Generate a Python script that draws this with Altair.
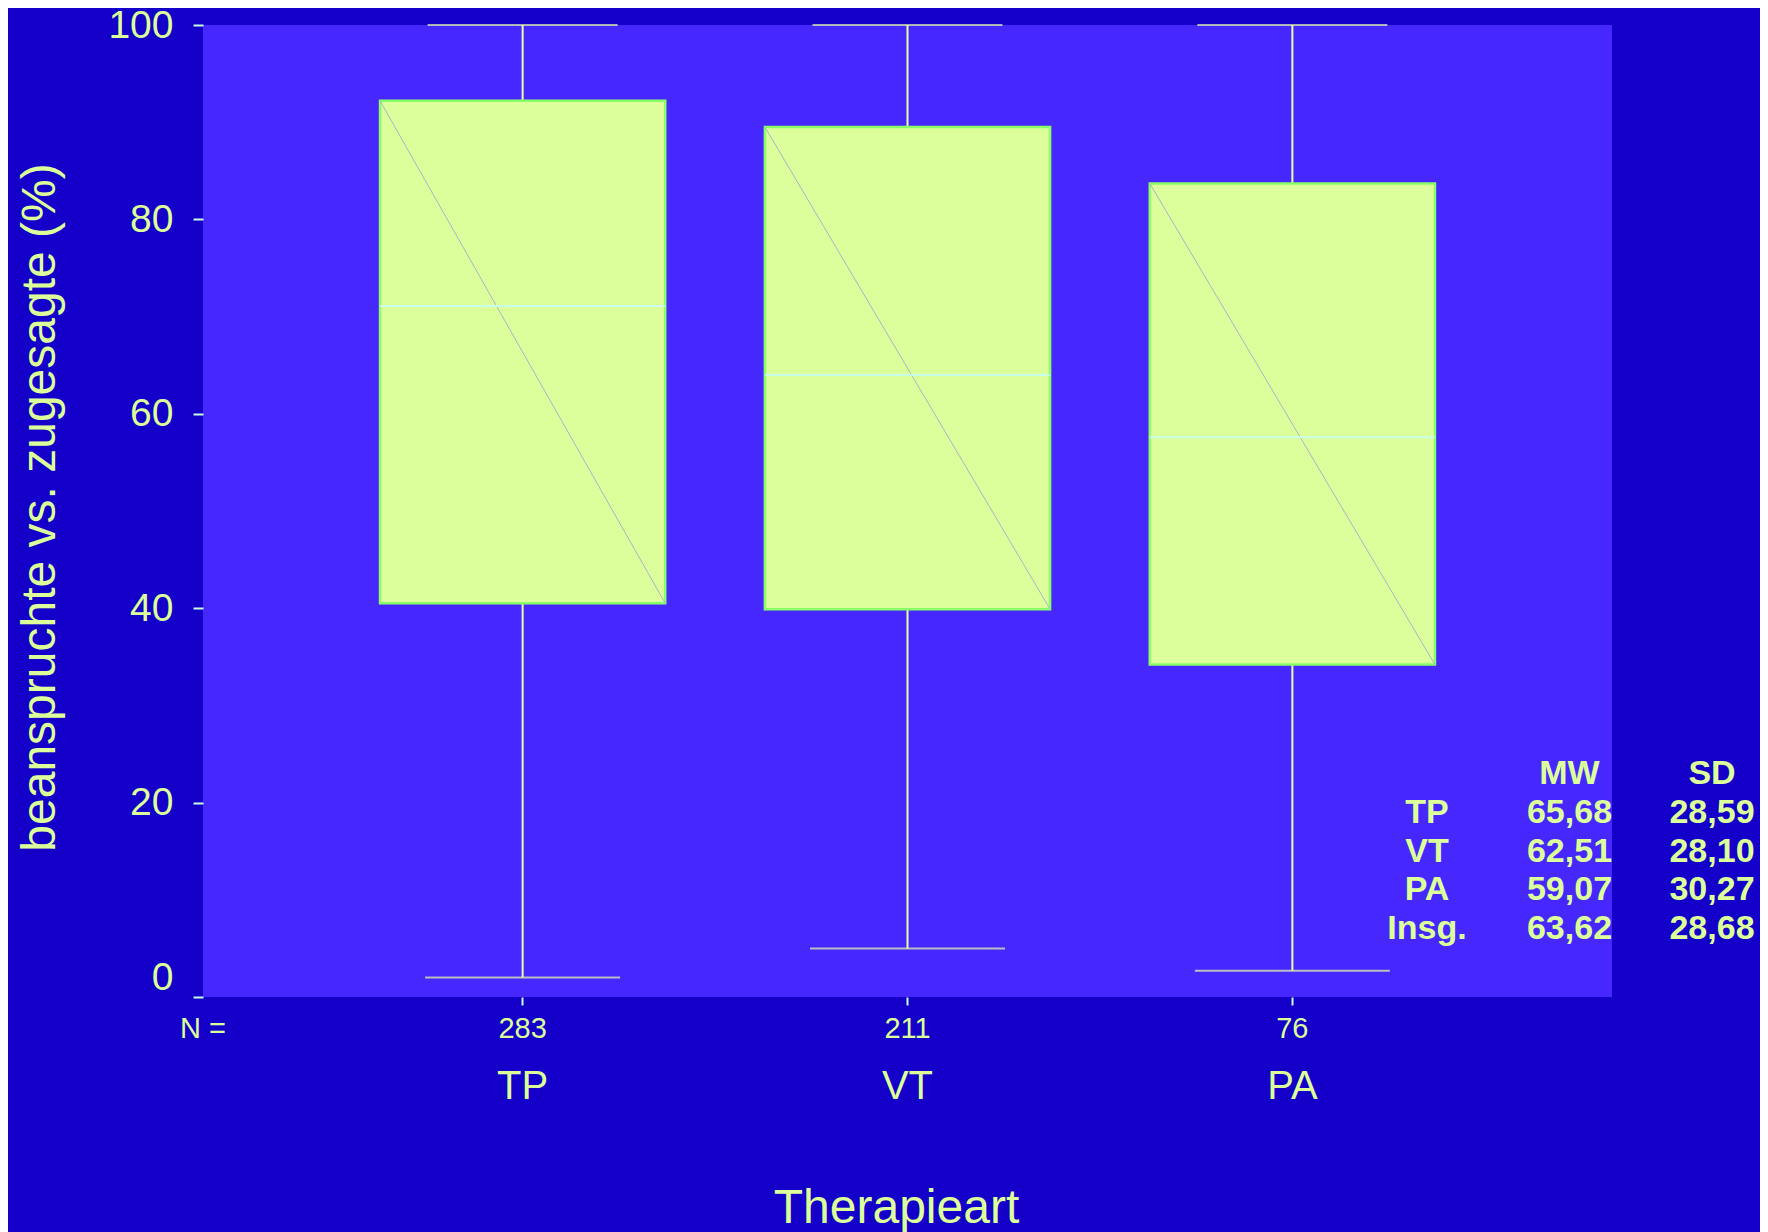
import altair as alt
import pandas as pd

# ---- data ----
categories = ["TP", "VT", "PA"]
n_values = [283, 211, 76]
whisker_low = [2.0, 5.0, 2.7]
q1 = [40.5, 39.9, 34.2]
median = [71.1, 64.0, 57.6]
q3 = [92.2, 89.5, 83.7]
whisker_high = [100.0, 100.0, 100.0]

n_label = "N ="
y_ticks = [0, 20, 40, 60, 80, 100]

table_header = ["", "MW", "SD"]
table_groups = ["TP", "VT", "PA", "Insg."]
table_mw = ["65,68", "62,51", "59,07", "63,62"]
table_sd = ["28,59", "28,10", "30,27", "28,68"]

# ---- styling ----
W, H = 1409, 972
PAD = {"left": 195, "top": 17, "right": 148, "bottom": 235}
BG = "#1400C8"
PLOT_BG = "#4628FF"
TXT = "#DDFF99"
TICK = "#C8FFE0"
BOX_FILL = "#DDFF9B"
BOX_STROKE = "#88FF66"
WHISK = "#E8FFA8"
MED = "#C8FFE8"
DIAG = "#A8B4C8"
FONT = "Liberation Sans"

df = pd.DataFrame({
    "cat": categories,
    "n": n_values,
    "low": whisker_low,
    "q1": q1,
    "med": median,
    "q3": q3,
    "high": whisker_high,
})

xscale = alt.Scale(domain=categories, paddingInner=0.259, paddingOuter=0.46)
yscale = alt.Scale(domain=[0, 100], nice=False, zero=False)

x_axis = alt.Axis(
    title="Therapieart",
    domain=False, grid=False,
    ticks=True, tickSize=8, tickColor=TICK, tickWidth=2,
    labelAngle=0, labelFontSize=40, labelColor=TXT, labelFont=FONT,
    labelBaseline="middle", labelPadding=81,
    titleFontSize=48, titleColor=TXT, titleFont=FONT, titleFontWeight="normal",
    titleY=211, titleX=693, titleBaseline="middle", titleAlign="center",
)
y_axis = alt.Axis(
    title="beanspruchte vs. zugesagte (%)",
    values=y_ticks, domain=False, grid=False,
    ticks=True, tickSize=10, tickColor=TICK, tickWidth=2,
    labelFontSize=39, labelColor=TXT, labelFont=FONT, labelPadding=20,
    labelOffset={"condition": {"test": "datum.value === 0", "value": -20}, "value": 0},
    titleFontSize=48, titleColor=TXT, titleFont=FONT, titleFontWeight="normal",
    titleX=-163, titleY=482, titleBaseline="middle", titleAlign="center", titleAngle=-90,
)

X = alt.X("cat:N", scale=xscale, sort=categories, axis=x_axis)
Xn = alt.X("cat:N", scale=xscale, sort=categories)

base = alt.Chart(df)

whisker = base.mark_rule(color=WHISK, strokeWidth=2).encode(
    x=X,
    y=alt.Y("low:Q", scale=yscale, axis=y_axis),
    y2="high:Q",
)
cap_low = base.mark_tick(color=WHISK, size=195, thickness=2).encode(
    x=Xn, y=alt.Y("low:Q", scale=yscale)
)
cap_high = base.mark_tick(color=WHISK, size=190, thickness=2).encode(
    x=Xn, y=alt.Y("high:Q", scale=yscale)
)
box = base.mark_bar(fill=BOX_FILL, stroke=BOX_STROKE, strokeWidth=2.5, opacity=1).encode(
    x=Xn, y=alt.Y("q1:Q", scale=yscale), y2="q3:Q"
)
diag = base.mark_rule(color=DIAG, strokeWidth=1).encode(
    x=alt.X("cat:N", scale=xscale, sort=categories, bandPosition=0),
    x2=alt.X2("cat", bandPosition=1),
    y=alt.Y("q3:Q", scale=yscale),
    y2="q1:Q",
)
med = base.mark_rule(color=MED, strokeWidth=2).encode(
    x=alt.X("cat:N", scale=xscale, sort=categories, bandPosition=0),
    x2=alt.X2("cat", bandPosition=1),
    y=alt.Y("med:Q", scale=yscale),
)
ntext = base.mark_text(fontSize=29, color=TXT, font=FONT, baseline="middle").encode(
    x=Xn, y=alt.value(H + 32), text="n:Q"
)
nlab = alt.Chart(pd.DataFrame({"t": [n_label]})).mark_text(
    fontSize=29, color=TXT, font=FONT, baseline="middle", align="center"
).encode(x=alt.value(0), y=alt.value(H + 32), text="t:N")

main = alt.layer(whisker, cap_low, cap_high, box, diag, med, ntext, nlab)

# statistics table (long format built from the arrays)
rows = []
for c, h in enumerate(table_header):
    rows.append({"col": c, "row": 0, "txt": h})
for r, (g, m, s) in enumerate(zip(table_groups, table_mw, table_sd), start=1):
    rows.append({"col": 0, "row": r, "txt": g})
    rows.append({"col": 1, "row": r, "txt": m})
    rows.append({"col": 2, "row": r, "txt": s})
tdf = pd.DataFrame(rows)

table = alt.Chart(tdf).mark_text(
    fontSize=34, fontWeight="bold", color=TXT, font=FONT, baseline="middle", align="center"
).encode(
    x=alt.X("col:Q", scale=alt.Scale(domain=[0, 2], range=[1224, 1509], nice=False, zero=False), axis=None),
    y=alt.Y("row:Q", scale=alt.Scale(domain=[0, 4], range=[749, 904], nice=False, zero=False), axis=None),
    text="txt:N",
)

chart = alt.layer(main, table).resolve_scale(x="independent", y="independent").properties(
    width=W, height=H,
    background=BG,
    autosize=alt.AutoSizeParams(type="none"),
    padding=PAD,
).configure(font=FONT).configure_view(fill=PLOT_BG, strokeWidth=0, stroke=None)

chart.save("out.html", embed_options={"renderer": "svg", "actions": False})
